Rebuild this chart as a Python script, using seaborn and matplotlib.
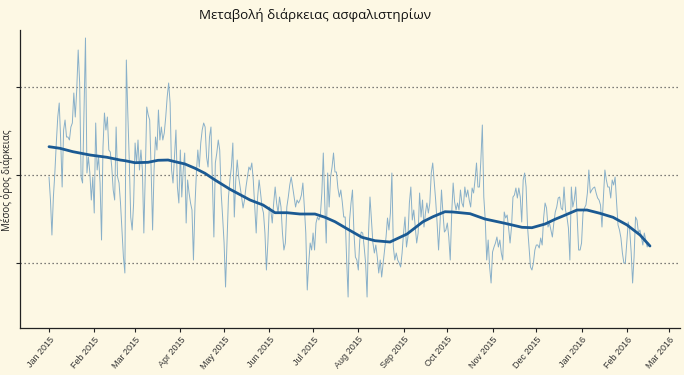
import pandas as pd
import matplotlib.pyplot as plt
import seaborn as sns

start = pd.Timestamp("2015-01-01")

# ημερήσιος μέσος όρος διάρκειας (εκτίμηση από το γράφημα, μία τιμή ανά ημέρα)
daily_values = [
    148, 125, 90, 128, 152, 182, 208, 222, 185, 138,
    195, 205, 188, 188, 185, 198, 202, 232, 208, 235,
    275, 242, 148, 142, 212, 287, 152, 168, 152, 125,
    148, 112, 202, 155, 168, 142, 85, 178, 212, 195,
    208, 175, 173, 158, 135, 125, 198, 148, 142, 122,
    95, 68, 52, 265, 212, 165, 108, 95, 122, 182,
    162, 185, 155, 175, 155, 92, 152, 218, 210, 205,
    155, 95, 155, 188, 175, 215, 185, 198, 185, 192,
    208, 228, 242, 222, 155, 142, 168, 195, 138, 122,
    175, 128, 155, 172, 102, 145, 132, 122, 115, 65,
    118, 152, 175, 158, 182, 195, 202, 198, 168, 158,
    188, 198, 145, 88, 162, 172, 185, 175, 132, 108,
    82, 38, 82, 128, 145, 158, 182, 108, 145, 165,
    148, 138, 128, 117, 125, 138, 148, 158, 155, 162,
    145, 118, 92, 128, 145, 132, 118, 112, 92, 55,
    82, 118, 115, 102, 122, 138, 122, 112, 128, 118,
    92, 75, 82, 118, 128, 140, 148, 138, 128, 118,
    125, 122, 125, 130, 142, 118, 92, 35, 62, 82,
    75, 92, 75, 102, 108, 105, 110, 132, 172, 122,
    82, 152, 118, 148, 158, 172, 153, 153, 137, 128,
    135, 123, 108, 108, 65, 28, 105, 122, 135, 92,
    68, 65, 55, 85, 93, 92, 78, 62, 28, 92,
    128, 105, 82, 72, 80, 68, 52, 65, 48, 62,
    75, 88, 107, 95, 112, 152, 78, 65, 72, 65,
    62, 58, 72, 92, 108, 78, 88, 122, 138, 105,
    115, 98, 82, 92, 132, 108, 125, 98, 112, 122,
    112, 122, 152, 162, 143, 125, 102, 75, 102, 135,
    112, 93, 95, 102, 88, 65, 112, 142, 123, 115,
    122, 115, 135, 122, 118, 138, 128, 135, 125, 118,
    137, 132, 145, 162, 138, 138, 165, 200, 128, 105,
    65, 85, 58, 42, 73, 78, 82, 88, 78, 85,
    72, 65, 113, 107, 110, 97, 82, 98, 128, 130,
    137, 127, 137, 128, 103, 145, 152, 138, 98, 78,
    58, 55, 62, 75, 80, 80, 77, 87, 80, 107,
    122, 117, 98, 102, 95, 88, 102, 113, 118, 127,
    128, 117, 115, 138, 115, 108, 97, 65, 138, 118,
    125, 138, 108, 75, 75, 82, 112, 117, 120, 132,
    155, 132, 135, 137, 138, 132, 127, 125, 120, 98,
    128, 155, 145, 138, 138, 127, 145, 140, 148, 123,
    100, 95, 87, 72, 62, 62, 82, 103, 95, 73,
    42, 68, 108, 105, 92, 95, 88, 80, 92, 85,
    78, 82,
]

# εξομαλυμένη καμπύλη: ημέρες από 1/1/2015 και τιμές
smooth_days = [0, 7.5, 16.4, 28.1, 39.8, 48.7, 52.1, 58.9, 67.9, 74.7, 81.6, 86.4,
               93.2, 100.1, 106.9, 113.8, 124.1, 137.8, 146.7, 154.9, 163.1, 172,
               182.3, 189.2, 196, 204.9, 214.5, 223.4, 233.7, 245.4, 256.3, 263.2,
               271.4, 276.9, 288.6, 298.8, 312.5, 324.2, 331, 340, 346.8, 352.3,
               361.9, 368.7, 377.6, 386.6, 396.2, 405.1, 411.9]
smooth_values = [178.3, 176.7, 173.3, 170, 167.7, 165, 164.3, 162.3, 162.7, 164.7, 165, 163.3,
                 161, 156.7, 151.7, 145, 135.7, 125, 120, 112.3, 112.3, 111,
                 111, 107.7, 103.3, 95.7, 87.7, 84.3, 83, 91, 103.3, 108.3,
                 113.3, 113, 111.3, 106, 101.7, 97.7, 97.3, 101, 105.7, 109,
                 115, 115, 111.7, 107.7, 100, 90, 79]

tick_dates = pd.date_range("2015-01-01", "2016-03-01", freq="MS")
tick_labels = [d.strftime("%b %Y") for d in tick_dates]
grid_levels = [62, 150, 238]

title = "Μεταβολή διάρκειας ασφαλιστηρίων"
ylabel = "Μέσος όρος διάρκειας"

bg = "#fdf8e4"

df = pd.DataFrame({"date": pd.date_range(start, periods=len(daily_values), freq="D"),
                   "value": daily_values})
sm = pd.DataFrame({"date": [start + pd.Timedelta(days=d) for d in smooth_days],
                   "value": smooth_values})

sns.set_style("white", {"axes.facecolor": bg, "figure.facecolor": bg})
plt.rcParams["font.family"] = ["Liberation Sans", "DejaVu Sans"]

fig = plt.figure(figsize=(6.84, 3.75), dpi=100)
ax = fig.add_axes([0.0292, 0.1253, 0.965, 0.7947])

sns.lineplot(data=df, x="date", y="value", ax=ax, color="#89b0c9", linewidth=0.7)
sns.lineplot(data=sm, x="date", y="value", ax=ax, color="#1b5a93", linewidth=2.0)

# οριζόντιες διακεκομμένες γραμμές
for g in grid_levels:
    ax.axhline(g, color="#555555", linestyle=(0, (1, 2.2)), linewidth=0.9, zorder=0)

ax.set_xlim(start - pd.Timedelta(days=19.9), start + pd.Timedelta(days=432.5))
ax.set_ylim(-3, 295)

ax.set_xticks(tick_dates)
ax.set_xticklabels(tick_labels, rotation=50, ha="right", rotation_mode="anchor",
                   fontsize=6.5, color="#333333")
ax.set_yticks(grid_levels)
ax.set_yticklabels([])
ax.tick_params(bottom=True, left=True, length=3, width=0.8, color="#222222", pad=2)
ax.set_xlabel("")
ax.set_ylabel("")

sns.despine(ax=ax)
for s in ["left", "bottom"]:
    ax.spines[s].set_color("#222222")
    ax.spines[s].set_linewidth(0.9)

fig.text(315 / 684, 1 - 15 / 375, title, ha="center", va="center", fontsize=9.6,
         family=["Open Sans", "DejaVu Sans"], color="#111111")
fig.text(7 / 684, 1 - 180 / 375, ylabel, ha="center", va="center", rotation=90,
         fontsize=7, family=["Open Sans", "DejaVu Sans"], color="#222222")

fig.savefig("out.png", dpi=100, facecolor=bg)
